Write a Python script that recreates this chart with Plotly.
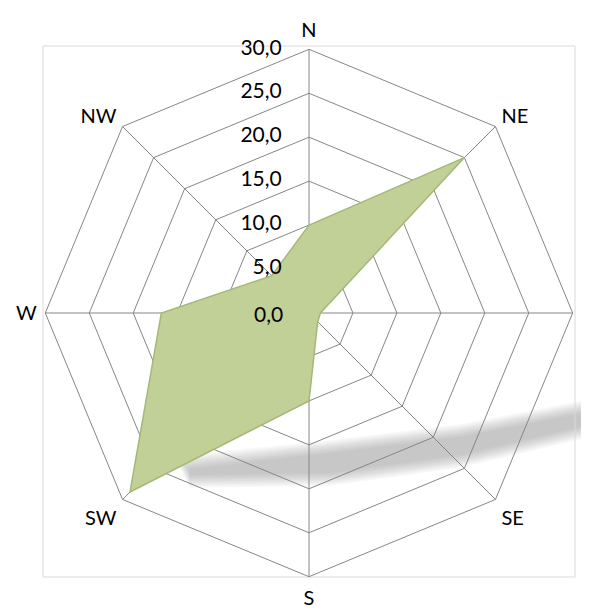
import plotly.graph_objects as go

directions = ["N", "NE", "E", "SE", "S", "SW", "W", "NW"]
values = [10.0, 25.0, 1.3, 1.4, 10.0, 28.8, 16.8, 6.0]
radial_ticks = [0, 5, 10, 15, 20, 25, 30]
radial_tick_labels = ["0,0", "5,0", "10,0", "15,0", "20,0", "25,0", "30,0"]

W, H = 589, 610
OFF = 8  # page body margin
cx, cy, R = 309 - OFF, 313 - OFF, 263.7


def px(x):
    return (x - OFF) / W


def py(y):
    return 1 - (y - OFF) / H


font = "Lato, 'Open Sans', sans-serif"

fig = go.Figure()
fig.add_trace(go.Scatterpolar(
    r=values + [values[0]],
    theta=directions + [directions[0]],
    mode="lines",
    fill="toself",
    fillcolor="rgb(193,208,151)",
    line=dict(color="rgb(165,184,120)", width=1.5),
    hoverinfo="skip",
))
# radial value labels along the N spoke (the centre label is an annotation)
fig.add_trace(go.Scatterpolar(
    r=radial_ticks[1:],
    theta=[directions[0]] * (len(radial_ticks) - 1),
    mode="markers+text",
    text=radial_tick_labels[1:],
    textposition="middle left",
    textfont=dict(family=font, size=21, color="black"),
    marker=dict(size=42, color="rgba(0,0,0,0)"),
    hoverinfo="skip",
    cliponaxis=False,
))

# soft perspective shadow (decoration)
center_line = [(190, 472), (330, 463), (460, 446), (600, 416)]
half = [3, 10, 9, 6]
shapes = []
for grow in range(16, -1, -2):
    top = [(x - (grow if i == 0 else 0), y - h - grow * 0.8) for i, ((x, y), h) in enumerate(zip(center_line, half))]
    bot = [(x, y + h + grow * 0.8) for (x, y), h in zip(center_line, half)][::-1]
    pts = top + bot
    path = "M " + " L ".join(f"{px(x):.4f},{py(y):.4f}" for x, y in pts) + " Z"
    shapes.append(dict(type="path", xref="paper", yref="paper", path=path,
                       fillcolor="rgba(90,90,90,0.045)", line=dict(width=0), layer="below"))

shapes.append(dict(type="rect", xref="paper", yref="paper",
                   x0=px(43), x1=px(575), y0=py(577), y1=py(46),
                   line=dict(color="#D9D9D9", width=1), fillcolor="rgba(0,0,0,0)",
                   layer="below"))

annotations = [dict(
    text=radial_tick_labels[0], xref="paper", yref="paper",
    x=(cx - 24) / W, y=(H - cy) / H, xanchor="right", yanchor="middle",
    showarrow=False, font=dict(family=font, size=21, color="black"),
)]

fig.update_layout(
    width=W, height=H,
    margin=dict(l=0, r=0, t=0, b=0),
    paper_bgcolor="white",
    plot_bgcolor="white",
    showlegend=False,
    font=dict(family=font, size=20, color="black"),
    polar=dict(
        domain=dict(x=[(cx - R) / W, (cx + R) / W],
                    y=[(H - cy - R) / H, (H - cy + R) / H]),
        bgcolor="rgba(0,0,0,0)",
        gridshape="linear",
        angularaxis=dict(
            direction="clockwise",
            rotation=90,
            categoryorder="array",
            categoryarray=directions,
            showline=True,
            linecolor="#868686",
            linewidth=1,
            gridcolor="#868686",
            gridwidth=1,
            ticks="outside",
            ticklen=4,
            tickcolor="rgba(0,0,0,0)",
            tickfont=dict(family=font, size=20, color="black"),
        ),
        radialaxis=dict(
            range=[0, 30],
            tickvals=radial_ticks,
            showticklabels=False,
            angle=90,
            showline=False,
            ticks="",
            gridcolor="#868686",
            gridwidth=1,
        ),
    ),
    shapes=shapes,
    annotations=annotations,
)

fig.write_html("out.html")
